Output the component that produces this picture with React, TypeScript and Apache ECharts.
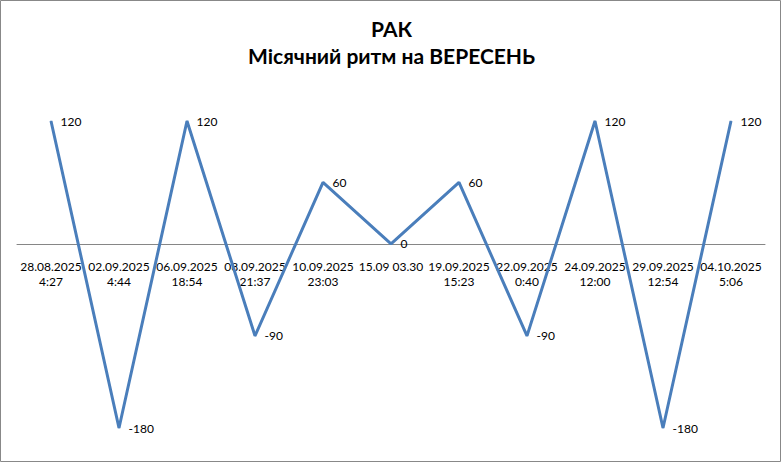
import React, { useEffect, useRef } from 'react';
import * as echarts from 'echarts';

const dates = [
  '28.08.2025\n4:27',
  '02.09.2025\n4:44',
  '06.09.2025\n18:54',
  '08.09.2025\n21:37',
  '10.09.2025\n23:03',
  '15.09 03.30',
  '19.09.2025\n15:23',
  '22.09.2025\n0:40',
  '24.09.2025\n12:00',
  '29.09.2025\n12:54',
  '04.10.2025\n5:06',
];
const rhythm = [120, -180, 120, -90, 60, 0, 60, -90, 120, -180, 120];

const App: React.FC = () => {
  const chartRef = useRef<HTMLDivElement | null>(null);

  useEffect(() => {
    if (!chartRef.current) return;
    const chart = echarts.init(chartRef.current, null, { renderer: 'svg' });

    chart.setOption({
      animation: false,
      backgroundColor: '#fff',
      title: {
        text: 'РАК\nМісячний ритм на ВЕРЕСЕНЬ',
        left: 'center',
        top: 10,
        textStyle: {
          fontFamily: 'Lato',
          fontWeight: 'bold',
          fontSize: 21,
          lineHeight: 27,
          color: '#000',
        },
      },
      graphic: [
        {
          type: 'rect',
          shape: { x: 0.5, y: 0.5, width: 780, height: 461 },
          style: { fill: 'none', stroke: '#888', lineWidth: 1 },
          silent: true,
        },
      ],
      grid: { left: 17, right: 18, top: 121, bottom: 35, outerBoundsMode: 'none' },
      xAxis: {
        type: 'category',
        data: dates,
        boundaryGap: true,
        offset: -184,
        axisLine: { onZero: false, lineStyle: { color: '#868686', width: 1 } },
        axisTick: { show: false },
        axisLabel: {
          interval: 0,
          margin: 15,
          color: '#000',
          fontFamily: 'Lato',
          fontSize: 12,
          lineHeight: 15,
        },
      },
      yAxis: {
        type: 'value',
        min: -180,
        max: 120,
        show: false,
        splitLine: { show: false },
      },
      series: [
        {
          type: 'line',
          data: rhythm,
          symbol: 'circle',
          symbolSize: 1,
          showSymbol: true,
          itemStyle: { color: '#4a7ebb' },
          lineStyle: { color: '#4a7ebb', width: 3 },
          label: {
            show: true,
            position: 'right',
            distance: 9,
            color: '#000',
            fontFamily: 'Lato',
            fontSize: 12,
          },
        },
      ],
    });

    return () => {
      chart.dispose();
    };
  }, []);

  return (
    <div
      ref={chartRef}
      style={{ position: 'fixed', left: 0, top: 0, width: '783px', height: '463px' }}
    />
  );
};

export default App;
